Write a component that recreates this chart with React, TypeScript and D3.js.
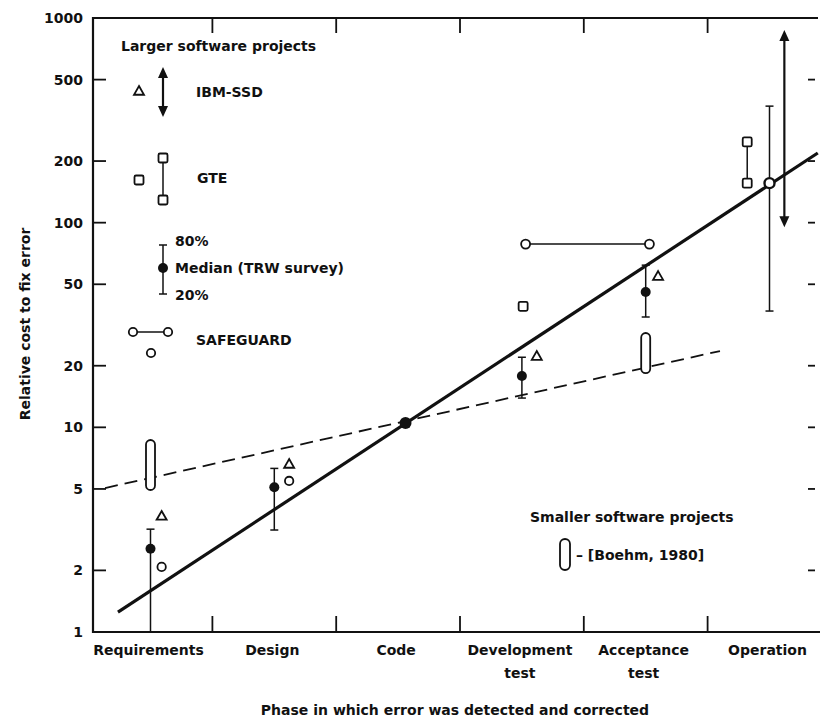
import React from "react";
import * as d3 from "d3";

// ---- data ----
const phases = ["Requirements", "Design", "Code", "Development|test", "Acceptance|test", "Operation"];
const yTickValues = [1000, 500, 200, 100, 50, 20, 10, 5, 2, 1];
const yInnerTicks = [500, 200, 100, 50, 20, 10, 5, 2];

// TRW survey medians with 20%/80% range
const medianPhase = [0, 1, 2.06, 3, 4, 5];
const medianValue = [2.55, 5.1, 10.5, 17.8, 45.8, 156];
const medianHigh = [3.18, 6.3, NaN, 22, 62, 371];
const medianLow = [1, 3.15, NaN, 13.9, 34.6, 37];

// IBM-SSD
const ibmPhase = [0.09, 1.12, 3.12, 4.1];
const ibmValue = [3.69, 6.62, 22.3, 54.8];
const ibmRangePhase = [5.12];
const ibmRangeHigh = [873];
const ibmRangeLow = [95];

// GTE
const gtePhase = [3.01];
const gteValue = [39];
const gteRangePhase = [4.82];
const gteRangeHigh = [248];
const gteRangeLow = [156];

// SAFEGUARD
const safePhase = [0.09, 1.12];
const safeValue = [2.08, 5.47];
const safeRangeFrom = [3.03];
const safeRangeTo = [4.03];
const safeRangeValue = [78.6];

// Boehm 1980 (smaller projects)
const boehmPhase = [0, 4];
const boehmHigh = [8.67, 28.9];
const boehmLow = [4.94, 18.4];

// trend lines
const solidPhase = [-0.263, 5.39];
const solidValue = [1.25, 219];
const dashedPhase = [-0.367, 4.6];
const dashedValue = [5.05, 23.6];

const FONT = "'DejaVu Sans', sans-serif";

export default function App() {
  const W = 820, H = 723;
  const left = 93, right = 822, top = 18, bottom = 632;
  const x = d3.scaleLinear().domain([0, 1]).range([150.5, 274.3]);
  const y = d3.scaleLog().domain([1, 1000]).range([bottom, top]);

  const line = d3.line<[number, number]>().x(d => x(d[0])).y(d => y(d[1]));
  const solidPts = solidPhase.map((p, i) => [p, solidValue[i]] as [number, number]);
  const dashedPts = dashedPhase.map((p, i) => [p, dashedValue[i]] as [number, number]);

  const boundaries = d3.range(phases.length - 1).map(i => i + 0.5);

  const tri = (cx: number, cy: number, s = 5) =>
    `M${cx},${cy - s}L${cx + s},${cy + s * 0.75}L${cx - s},${cy + s * 0.75}Z`;

  const textStyle = { fontFamily: FONT, fontWeight: 700, fontSize: 14, fill: "#111" } as const;

  const arrow = (cx: number, y1: number, y2: number, key: string) => (
    <g key={key}>
      <line x1={cx} x2={cx} y1={y1 + 8} y2={y2 - 8} stroke="#111" strokeWidth={2.2} />
      <path d={`M${cx},${y1}L${cx + 5},${y1 + 11}L${cx - 5},${y1 + 11}Z`} fill="#111" />
      <path d={`M${cx},${y2}L${cx + 5},${y2 - 11}L${cx - 5},${y2 - 11}Z`} fill="#111" />
    </g>
  );

  const errBar = (cx: number, y1: number, y2: number, key: string, capTop = true, capBottom = true) => (
    <g key={key} stroke="#111" strokeWidth={1.5}>
      <line x1={cx} x2={cx} y1={y1} y2={y2} />
      {capTop && <line x1={cx - 4} x2={cx + 4} y1={y1} y2={y1} />}
      {capBottom && <line x1={cx - 4} x2={cx + 4} y1={y2} y2={y2} />}
    </g>
  );

  const pill = (cx: number, y1: number, y2: number, key: string, w = 9) => (
    <rect key={key} x={cx - w / 2} y={y1} width={w} height={y2 - y1} rx={w / 2} ry={w / 2}
      fill="white" stroke="#111" strokeWidth={1.8} />
  );

  return (
    <svg width={W} height={H} style={{ position: "absolute", left: 0, top: 0, background: "white" }}>
      <rect width={W} height={H} fill="white" />
      {/* frame */}
      <g stroke="#111" strokeWidth={2.2} fill="none">
        <line x1={left} x2={left} y1={top - 1} y2={bottom + 1} />
        <line x1={left} x2={right} y1={bottom} y2={bottom} />
        <line x1={left} x2={818} y1={top} y2={top} />
        <line x1={right} x2={right} y1={top} y2={bottom} />
      </g>
      {/* y ticks */}
      {yInnerTicks.map(v => (
        <g key={"yt" + v} stroke="#111" strokeWidth={1.8}>
          <line x1={left} x2={left + 13} y1={y(v)} y2={y(v)} />
          <line x1={808} x2={815} y1={y(v)} y2={y(v)} />
        </g>
      ))}
      {yTickValues.map(v => (
        <text key={"yl" + v} x={83} y={y(v)} dy="0.36em" textAnchor="end" style={textStyle}>{v}</text>
      ))}
      {/* x boundary ticks */}
      {boundaries.map(b => (
        <g key={"xb" + b} stroke="#111" strokeWidth={1.8}>
          <line x1={x(b)} x2={x(b)} y1={top} y2={top + 15} />
          <line x1={x(b)} x2={x(b)} y1={bottom} y2={bottom - 16} />
        </g>
      ))}
      {/* category labels */}
      {phases.map((p, i) => (
        <text key={"cat" + i} x={x(i) - 2} y={655} textAnchor="middle" style={textStyle}>
          {p.split("|").map((s, j) => (
            <tspan key={j} x={x(i) - 2} dy={j === 0 ? 0 : 23}>{s}</tspan>
          ))}
        </text>
      ))}
      {/* axis titles */}
      <text x={455} y={715} textAnchor="middle" style={textStyle}>Phase in which error was detected and corrected</text>
      <text transform="translate(30,324) rotate(-90)" textAnchor="middle" style={textStyle}>Relative cost to fix error</text>

      {/* trend lines */}
      <path d={line(dashedPts) || ""} fill="none" stroke="#111" strokeWidth={1.8} strokeDasharray="13,7" />
      <path d={line(solidPts) || ""} fill="none" stroke="#111" strokeWidth={3.2} />

      {/* Boehm 1980 pills */}
      {boehmPhase.map((p, i) => pill(x(p), y(boehmHigh[i]), y(boehmLow[i]), "bp" + i))}

      {/* median error bars */}
      {medianPhase.map((p, i) =>
        isNaN(medianHigh[i]) ? null :
          errBar(x(p), y(medianHigh[i]), y(medianLow[i]), "eb" + i, true, medianLow[i] > 1)
      )}
      {medianPhase.map((p, i) =>
        i === medianPhase.length - 1 ? (
          <circle key={"md" + i} cx={x(p)} cy={y(medianValue[i])} r={5} fill="white" stroke="#111" strokeWidth={2.4} />
        ) : (
          <circle key={"md" + i} cx={x(p)} cy={y(medianValue[i])} r={i === 2 ? 6 : 5} fill="#111" />
        )
      )}

      {/* IBM-SSD */}
      {ibmPhase.map((p, i) => (
        <path key={"ibm" + i} d={tri(x(p), y(ibmValue[i]))} fill="white" stroke="#111" strokeWidth={1.8} />
      ))}
      {ibmRangePhase.map((p, i) => arrow(x(p), y(ibmRangeHigh[i]), y(ibmRangeLow[i]), "ibmr" + i))}

      {/* GTE */}
      {gtePhase.map((p, i) => (
        <rect key={"gte" + i} x={x(p) - 4.5} y={y(gteValue[i]) - 4.5} width={9} height={9} rx={1.5}
          fill="white" stroke="#111" strokeWidth={1.8} />
      ))}
      {gteRangePhase.map((p, i) => (
        <g key={"gter" + i}>
          <line x1={x(p)} x2={x(p)} y1={y(gteRangeHigh[i])} y2={y(gteRangeLow[i])} stroke="#111" strokeWidth={1.5} />
          {[gteRangeHigh[i], gteRangeLow[i]].map((v, j) => (
            <rect key={j} x={x(p) - 4.5} y={y(v) - 4.5} width={9} height={9} rx={1.5}
              fill="white" stroke="#111" strokeWidth={1.8} />
          ))}
        </g>
      ))}

      {/* SAFEGUARD */}
      {safePhase.map((p, i) => (
        <circle key={"sg" + i} cx={x(p)} cy={y(safeValue[i])} r={4.2} fill="white" stroke="#111" strokeWidth={1.8} />
      ))}
      {safeRangeFrom.map((p, i) => (
        <g key={"sgr" + i}>
          <line x1={x(p)} x2={x(safeRangeTo[i])} y1={y(safeRangeValue[i])} y2={y(safeRangeValue[i])} stroke="#111" strokeWidth={1.5} />
          {[p, safeRangeTo[i]].map((q, j) => (
            <circle key={j} cx={x(q)} cy={y(safeRangeValue[i])} r={4.5} fill="white" stroke="#111" strokeWidth={1.8} />
          ))}
        </g>
      ))}

      {/* legend: larger projects */}
      <text x={121} y={51} style={textStyle}>Larger software projects</text>
      <path d={tri(139, 91)} fill="white" stroke="#111" strokeWidth={1.8} />
      {arrow(163, 67, 117, "legArrow")}
      <text x={196} y={97} style={textStyle}>IBM-SSD</text>

      <rect x={134.5} y={175.5} width={9} height={9} rx={1.5} fill="white" stroke="#111" strokeWidth={1.8} />
      <line x1={163} x2={163} y1={158} y2={200} stroke="#111" strokeWidth={1.5} />
      <rect x={158.5} y={153.5} width={9} height={9} rx={1.5} fill="white" stroke="#111" strokeWidth={1.8} />
      <rect x={158.5} y={195.5} width={9} height={9} rx={1.5} fill="white" stroke="#111" strokeWidth={1.8} />
      <text x={197} y={183} style={textStyle}>GTE</text>

      {errBar(163, 245, 294, "legErr")}
      <circle cx={163} cy={268} r={5} fill="#111" />
      <text x={175} y={246} style={textStyle}>80%</text>
      <text x={175} y={273} style={textStyle}>Median (TRW survey)</text>
      <text x={175} y={300} style={textStyle}>20%</text>

      <line x1={133} x2={168} y1={332} y2={332} stroke="#111" strokeWidth={1.5} />
      <circle cx={133} cy={332} r={4.2} fill="white" stroke="#111" strokeWidth={1.8} />
      <circle cx={168} cy={332} r={4.2} fill="white" stroke="#111" strokeWidth={1.8} />
      <circle cx={151} cy={353} r={4.2} fill="white" stroke="#111" strokeWidth={1.8} />
      <text x={196} y={345} style={textStyle}>SAFEGUARD</text>

      {/* legend: smaller projects */}
      <text x={530} y={522} style={textStyle}>Smaller software projects</text>
      {pill(565, 539, 570, "legPill", 10)}
      <text x={576} y={560} style={textStyle}>– [Boehm, 1980]</text>
    </svg>
  );
}
